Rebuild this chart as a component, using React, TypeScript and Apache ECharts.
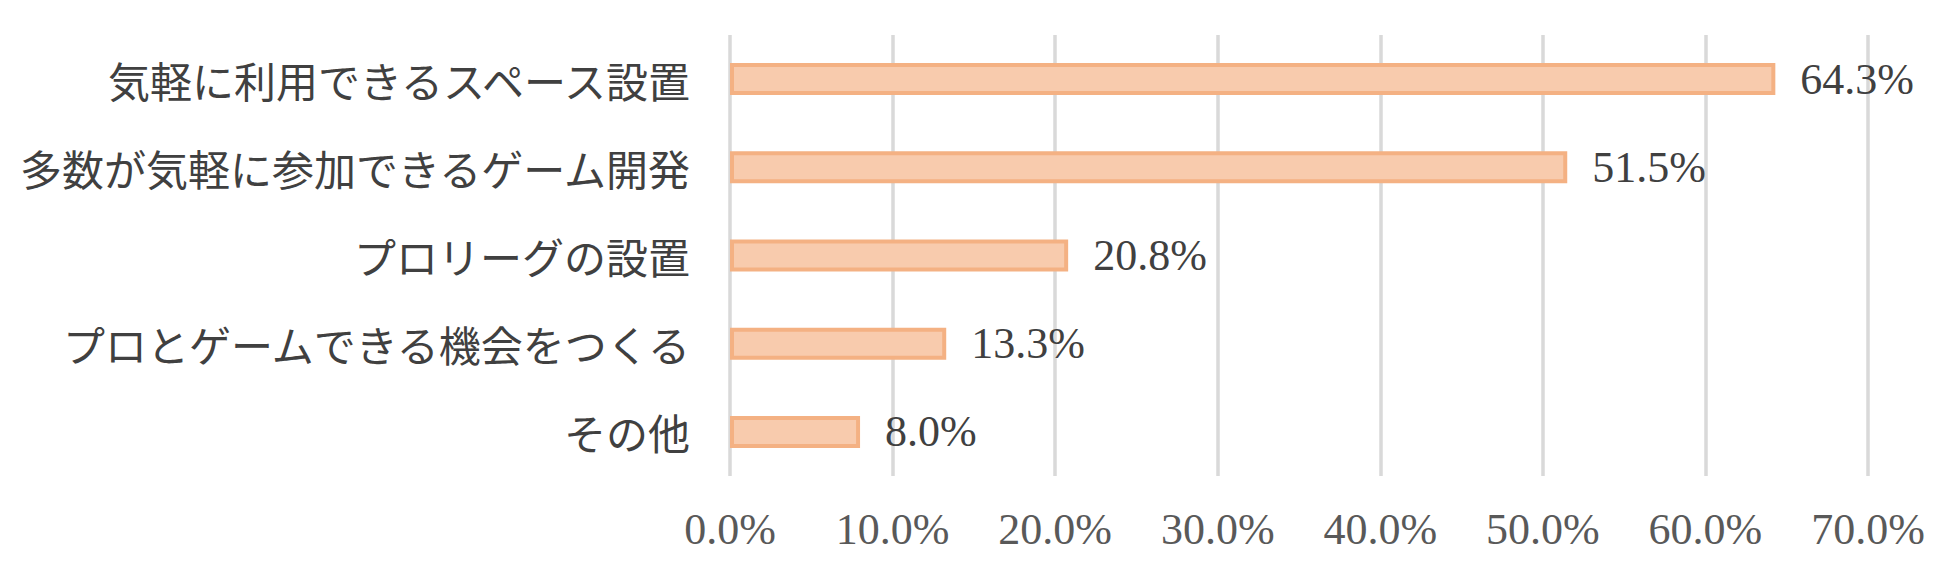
import React, { useEffect, useRef } from "react";
import * as echarts from "echarts";

const categories = [
  "気軽に利用できるスペース設置",
  "多数が気軽に参加できるゲーム開発",
  "プロリーグの設置",
  "プロとゲームできる機会をつくる",
  "その他",
];
const values = [64.3, 51.5, 20.8, 13.3, 8.0];
const axisMin = 0;
const axisMax = 70;
const axisInterval = 10;

export default function App() {
  const ref = useRef<HTMLDivElement>(null);
  useEffect(() => {
    document.body.style.margin = "0";
    if (!ref.current) return;
    const chart = echarts.init(ref.current, undefined, { renderer: "svg" });
    const serif = "'Liberation Serif', 'Noto Sans CJK JP', serif";
    chart.setOption({
      animation: false,
      backgroundColor: "#ffffff",
      grid: { left: 730, right: 82, top: 35, bottom: 103, containLabel: false },
      xAxis: {
        type: "value",
        min: axisMin,
        max: axisMax,
        interval: axisInterval,
        axisLine: { show: false },
        axisTick: { show: false },
        splitLine: { show: true, lineStyle: { color: "#D9D9D9", width: 3.5 } },
        axisLabel: {
          margin: 31,
          fontSize: 44,
          color: "#595959",
          fontFamily: serif,
          formatter: (v: number) => v.toFixed(1) + "%",
        },
      },
      yAxis: {
        type: "category",
        data: categories,
        inverse: true,
        axisLine: { show: false },
        axisTick: { show: false },
        splitLine: { show: false },
        axisLabel: {
          margin: 40,
          fontSize: 42,
          color: "#404040",
          fontFamily: "'Noto Sans CJK JP', sans-serif",
        },
      },
      series: [
        {
          type: "bar",
          data: values,
          barWidth: 32,
          itemStyle: {
            color: "#F8CBAD",
            borderColor: "#F4B183",
            borderWidth: 4,
          },
          label: {
            show: true,
            position: "right",
            distance: 25,
            fontSize: 44,
            color: "#404040",
            fontFamily: serif,
            formatter: (p: any) => Number(p.value).toFixed(1) + "%",
          },
        },
      ],
    });
    return () => chart.dispose();
  }, []);
  return <div ref={ref} style={{ width: 1950, height: 579 }} />;
}
